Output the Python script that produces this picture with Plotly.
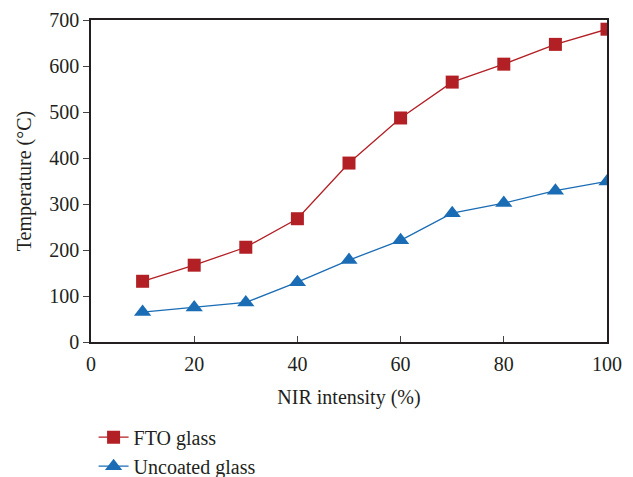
import plotly.graph_objects as go

nir = [10, 20, 30, 40, 50, 60, 70, 80, 90, 100]
fto = [132, 167, 206, 268, 389, 487, 565, 604, 647, 680]
uncoated = [65, 75, 86, 130, 178, 221, 280, 302, 329, 349]
x_ticks = [0, 20, 40, 60, 80, 100]
y_ticks = [0, 100, 200, 300, 400, 500, 600, 700]

RED = "#B21F24"
BLUE = "#1A6CB4"
FONT = "Liberation Serif"

fig = go.Figure()
fig.add_trace(go.Scatter(x=nir, y=fto, name="FTO glass", mode="lines+markers",
                         line=dict(color=RED, width=1.3),
                         marker=dict(symbol="square", size=13, color=RED)))
fig.add_trace(go.Scatter(x=nir, y=uncoated, name="Uncoated glass", mode="lines+markers",
                         line=dict(color=BLUE, width=1.3),
                         marker=dict(symbol="triangle-up", size=15, color=BLUE)))

fig.update_layout(
    width=625, height=469,
    margin=dict(l=83, r=26, t=12, b=135, autoexpand=False),
    paper_bgcolor="white", plot_bgcolor="white",
    font=dict(family=FONT, size=20, color="#231F20"),
    showlegend=True,
    legend=dict(x=0.005, y=-0.235, xanchor="left", yanchor="top",
                font=dict(size=20, family=FONT),
                itemwidth=30, tracegroupgap=0, bgcolor="rgba(0,0,0,0)"),
    xaxis=dict(range=[0, 100], tickvals=x_ticks, ticks="inside", ticklen=6,
               showline=True, linecolor="#231F20", linewidth=1.5, mirror=True,
               showgrid=False, zeroline=False, tickfont=dict(size=20), automargin=False,
               ticklabeloverflow="allow", ticklabelstandoff=3,
               title=dict(text="NIR intensity (%)", font=dict(size=20), standoff=16)),
    yaxis=dict(range=[0, 700], tickvals=y_ticks, ticks="outside", ticklen=6,
               showline=True, linecolor="#231F20", linewidth=1.5, mirror=True,
               showgrid=False, zeroline=False, tickfont=dict(size=20), automargin=False,
               ticklabeloverflow="allow",
               title=dict(text="Temperature (°C)", font=dict(size=20), standoff=12)),
)

fig.write_html("out.html")
